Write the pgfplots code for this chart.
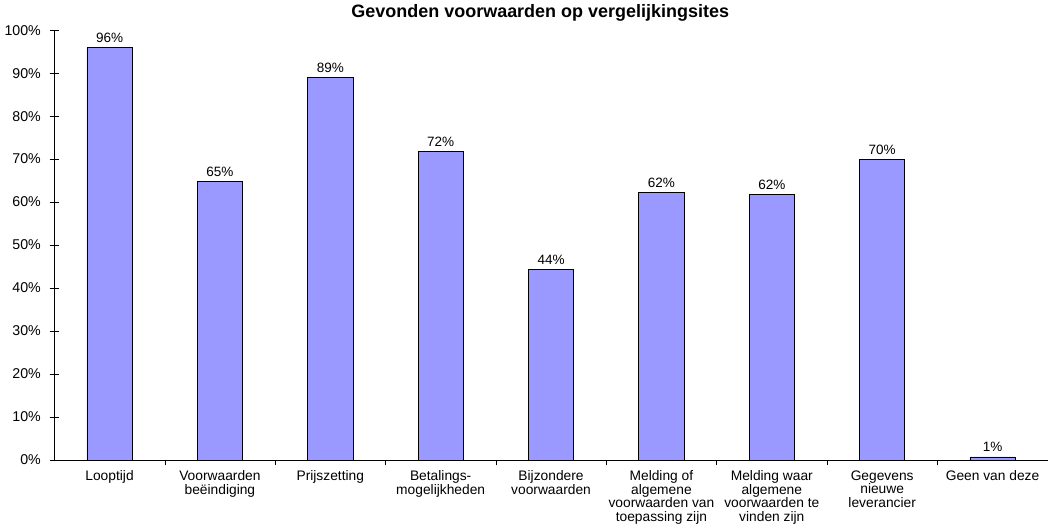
\documentclass[border=0pt]{standalone}
\usepackage{pgfplots}
\pgfplotsset{compat=1.18}
\usepackage{fontspec}
\setmainfont{Liberation Sans}
\definecolor{barblue}{HTML}{9999FF}

\begin{document}
\begin{tikzpicture}
\begin{axis}[
    width=735pt, height=318pt,
    scale only axis,
    ybar,
    bar width=33.5pt,
    xmin=-0.5, xmax=8.5,
    ymin=0, ymax=100,
    axis x line=bottom,
    axis y line=left,
    axis line style={-, black},
    xtick={0,...,8},
    xticklabels={Looptijd,
      Voorwaarden\\beëindiging,
      Prijszetting,
      Betalings-\\mogelijkheden,
      Bijzondere\\voorwaarden,
      Melding of\\algemene\\voorwaarden van\\toepassing zijn,
      Melding waar\\algemene\\voorwaarden te\\vinden zijn,
      Gegevens\\nieuwe\\leverancier,
      Geen van deze},
    xticklabel style={align=center, font=\fontsize{10.2}{10}\selectfont, yshift=-1pt},
    xtick style={draw=none},
    extra x ticks={0.5,1.5,...,7.5},
    extra x tick labels={},
    extra x tick style={xtick style={draw=black}, tick align=outside, major tick length=4pt},
    ytick={0,10,...,100},
    yticklabel={\pgfmathprintnumber{\tick}\%},
    yticklabel style={font=\fontsize{10.5}{10}\selectfont, xshift=-3pt},
    /pgf/number format/assume math mode=true,
    tick align=center,
    major tick length=7pt,
    ytick style={black},
    title={\textbf{Gevonden voorwaarden op vergelijkingsites}},
    title style={font=\fontsize{13.3}{14}\selectfont, yshift=-3pt, xshift=-8pt},
    nodes near coords={\pgfmathprintnumber[fixed,precision=0]{\pgfplotspointmeta}\%},
    nodes near coords style={font=\fontsize{10}{10}\selectfont, black},
]
\addplot[fill=barblue, draw=black, line width=0.6pt] coordinates {
  (0,96) (1,64.8) (2,89) (3,71.8) (4,44.3) (5,62.3) (6,61.7) (7,70) (8,0.7)
};
\end{axis}
\end{tikzpicture}
\end{document}
